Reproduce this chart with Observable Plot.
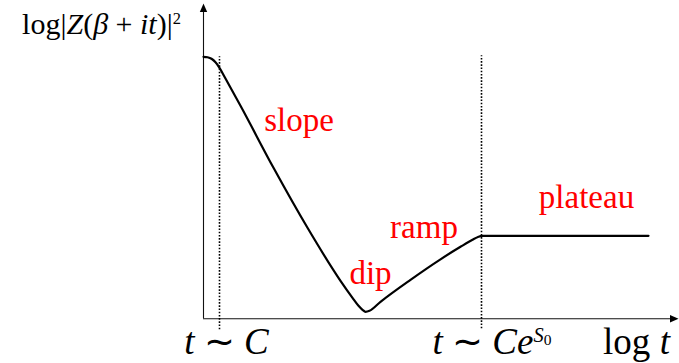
<!DOCTYPE html>
<html><head><meta charset="utf-8">
<script src="https://cdn.jsdelivr.net/npm/d3@7"></script>
<script src="https://cdn.jsdelivr.net/npm/@observablehq/plot@0.6"></script>
<style>body{margin:0;background:#fff;font-family:"Liberation Serif",serif}</style>
</head><body><div id="chart"></div>
<script>
// ---- data (abstract units: log t horizontally, log|Z|^2 vertically) ----
const logT = [0, 4, 8, 12, 16, 21, 37, 70, 104, 137, 149, 155, 159, 162, 166, 177, 207, 237, 257, 269, 275, 278, 445];
const logZ = [262, 261.5, 260, 256.5, 251, 242, 213, 151, 91, 38, 21, 13, 9, 7, 8, 17, 39, 59.5, 72, 79, 82, 83, 83];

const markerT = [16, 278];            // t ~ C  and  t ~ C e^{S0}
const markerTop = [262, 263];
const markerBottom = [-11, -10];

const regionNames = ["slope", "dip", "ramp", "plateau"];
const regionT = [95.5, 167, 220.5, 383];
const regionZ = [188, 35, 81, 111];

const tickLabels = ["t ∼ C", "t ∼ CeS0"];
const tickLabelT = [23, 288.5];
const xLabel = "log t";
const xLabelT = 433;
const yLabel = "log|Z(β + it)|2";
const yLabelT = -102;
const yLabelZ = 285.3;
const bottomLabelZ = -34.7;

const axisMaxT = 475;
const axisMaxZ = 315.3;

// formatting of math labels (segments: text, style)
const mathFormats = {
  "log|Z(β + it)|2": {fs: 30, segs: [["log|", ""], ["Z", "i"], ["(", ""], ["β", "i"], [" + ", ""], ["it", "i"], [")|", ""], ["2", "sup"]]},
  "t ∼ C": {fs: 37, segs: [["t", "i"], [" ∼ ", ""], ["C", "i"]]},
  "t ∼ CeS0": {fs: 37, segs: [["t", "i"], [" ∼ ", ""], ["Ce", "i"], ["S", "supi"], ["0", "supsub"]]},
  "log t": {fs: 37, segs: [["log ", ""], ["t", "i"]]}
};

// ---- build ----
const curve = logT.map((t, i) => ({t, z: logZ[i]}));
const markers = markerT.map((t, i) => ({t, top: markerTop[i], bottom: markerBottom[i]}));
const regions = regionNames.map((name, i) => ({name, t: regionT[i], z: regionZ[i]}));
const ticks = tickLabels.map((s, i) => ({s, t: tickLabelT[i]}));

const arrowUp = {draw(ctx) { ctx.moveTo(0, 0); ctx.lineTo(3.7, 8.5); ctx.lineTo(-3.7, 8.5); ctx.closePath(); }};
const arrowRight = {draw(ctx) { ctx.moveTo(0, 0); ctx.lineTo(-8.5, 3.7); ctx.lineTo(-8.5, -3.7); ctx.closePath(); }};

const serif = "Liberation Serif";

const plot = Plot.plot({
  width: 679,
  height: 363,
  x: {domain: [0, axisMaxT], range: [203, 678], axis: null},
  y: {domain: [0, axisMaxZ], range: [318.3, 3], axis: null},
  marks: [
    // axes
    Plot.ruleX([0], {y1: 0, y2: axisMaxZ - 6, stroke: "#111", strokeWidth: 1.1}),
    Plot.ruleY([0], {x1: 0, x2: axisMaxT - 6, stroke: "#111", strokeWidth: 1.1}),
    Plot.dot([0], {x: 0, y: axisMaxZ, symbol: arrowUp, fill: "black", stroke: "none", r: 5}),
    Plot.dot([0], {x: axisMaxT, y: 0, symbol: arrowRight, fill: "black", stroke: "none", r: 5}),
    // dotted markers
    Plot.ruleX(markers, {x: "t", y1: "bottom", y2: "top", stroke: "black", strokeWidth: 1.6, strokeDasharray: "1.6,1.6"}),
    // curve
    Plot.line(curve, {x: "t", y: "z", curve: "monotone-x", stroke: "black", strokeWidth: 2.2}),
    // region labels
    Plot.text(regions, {x: "t", y: "z", text: "name", fill: "red", fontSize: 33, fontFamily: serif, lineAnchor: "bottom", textAnchor: "middle"}),
    // axis labels
    Plot.text(ticks, {x: "t", y: () => bottomLabelZ, text: "s", fill: "black", fontSize: 37, fontFamily: serif, lineAnchor: "bottom", textAnchor: "middle"}),
    Plot.text([xLabel], {x: () => xLabelT, y: () => bottomLabelZ, text: d => d, fill: "black", fontSize: 37, fontFamily: serif, lineAnchor: "bottom", textAnchor: "middle"}),
    Plot.text([yLabel], {x: () => yLabelT, y: () => yLabelZ, text: d => d, fill: "black", fontSize: 30, fontFamily: serif, lineAnchor: "bottom", textAnchor: "middle"})
  ]
});
plot.style.overflow = "visible";
plot.setAttribute("font-family", serif);

// typeset math labels with tspans (italic, super/subscripts)
d3.select(plot).selectAll("text").each(function() {
  const fmt = mathFormats[this.textContent];
  if (!fmt) return;
  const el = d3.select(this);
  el.text(null);
  const fs = fmt.fs;
  let cur = 0;
  for (const [s, style] of fmt.segs) {
    let size = fs, shift = 0, italic = style.includes("i");
    if (style.startsWith("sup") && !style.includes("sub")) { size = fs * 0.55; shift = -fs * 0.32; }
    if (style === "supsub") { size = fs * 0.42; shift = -fs * 0.22; }
    const ts = el.append("tspan").text(s).attr("font-size", size).attr("dy", shift - cur);
    if (italic) ts.attr("font-style", "italic");
    cur = shift;
  }
});
// put the face directly on every text and tspan
d3.select(plot).selectAll("g[aria-label=text]").attr("font-family", serif);
d3.select(plot).selectAll("text, tspan").attr("font-family", serif);

document.getElementById("chart").append(plot);
</script>
</body></html>
